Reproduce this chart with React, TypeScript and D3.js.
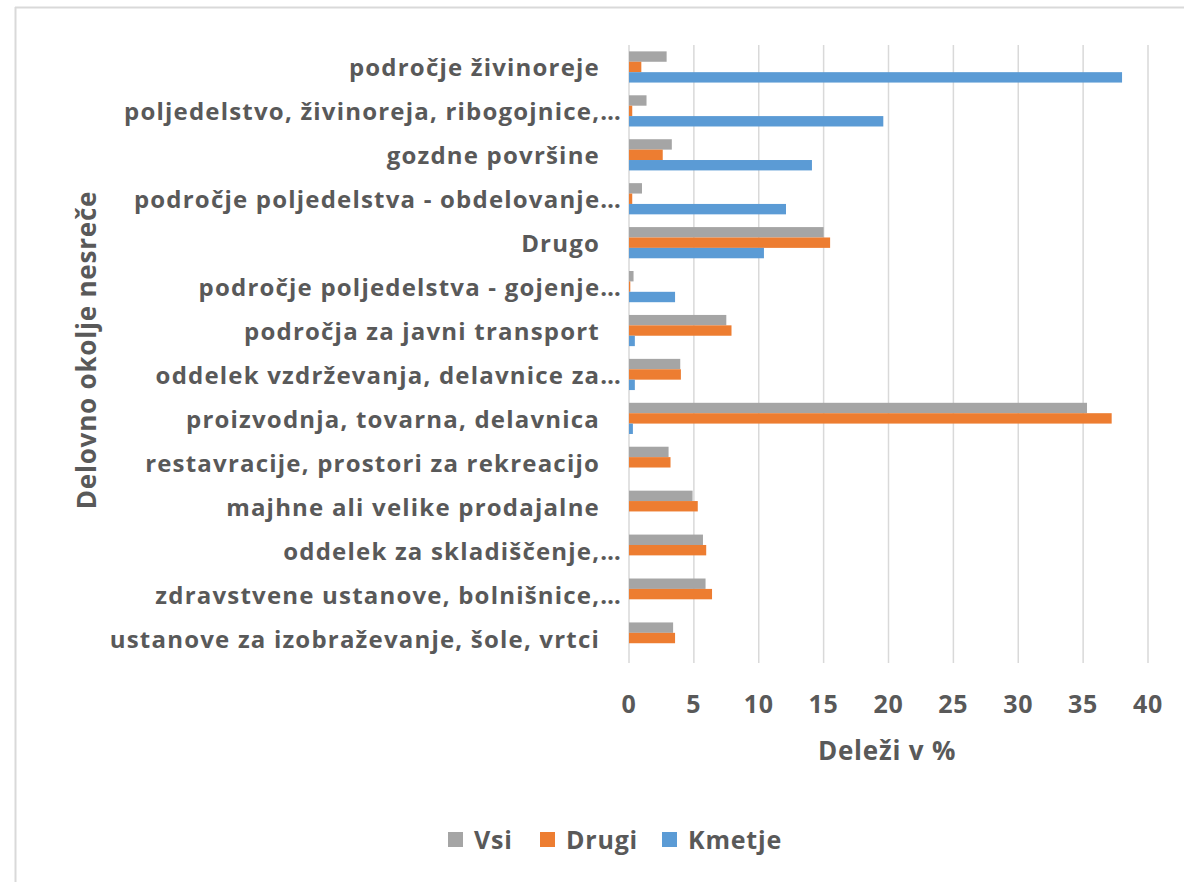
import React from "react";
import * as d3 from "d3";

const categories = [
  "področje živinoreje",
  "poljedelstvo, živinoreja, ribogojnice,…",
  "gozdne površine",
  "področje poljedelstva - obdelovanje…",
  "Drugo",
  "področje poljedelstva - gojenje…",
  "področja za javni transport",
  "oddelek vzdrževanja, delavnice za…",
  "proizvodnja, tovarna, delavnica",
  "restavracije, prostori za rekreacijo",
  "majhne ali velike prodajalne",
  "oddelek za skladiščenje,…",
  "zdravstvene ustanove, bolnišnice,…",
  "ustanove za izobraževanje, šole, vrtci",
];

const vsi = [2.9, 1.35, 3.3, 1.0, 15.0, 0.35, 7.5, 3.95, 35.3, 3.05, 4.9, 5.7, 5.9, 3.4];
const drugi = [0.95, 0.25, 2.6, 0.25, 15.5, 0.1, 7.9, 4.0, 37.2, 3.2, 5.3, 5.95, 6.4, 3.55];
const kmetje = [38.0, 19.6, 14.1, 12.1, 10.4, 3.55, 0.45, 0.45, 0.3, 0, 0, 0, 0, 0];

const seriesNames = ["Vsi", "Drugi", "Kmetje"];
const seriesColors = ["#A5A5A5", "#ED7D31", "#5B9BD5"];
const xTicks = [0, 5, 10, 15, 20, 25, 30, 35, 40];

export default function App() {
  const W = 1184, H = 882;
  const left = 629, right = 1148, top = 45, bottom = 660;
  const x = d3.scaleLinear().domain([0, 40]).range([left, right]);
  const y = d3.scaleBand().domain(categories).range([top, bottom]).paddingInner(0.29).paddingOuter(0.145);
  const inner = d3.scaleBand().domain(seriesNames).range([0, y.bandwidth()]);
  const series = [vsi, drugi, kmetje];
  const txt = "#595959";
  const font = "'Open Sans', sans-serif";
  const ls = 0.8;

  return (
    <svg width={W} height={H} style={{ position: "absolute", left: 0, top: 0, background: "#fff" }} fontFamily={font}>
      <rect x={0} y={0} width={W} height={H} fill="#fff" />
      <line x1={15.5} x2={15.5} y1={7} y2={H} stroke="#d9d9d9" strokeWidth={2} />
      <line x1={15} x2={W} y1={7.5} y2={7.5} stroke="#d9d9d9" strokeWidth={2} />
      {xTicks.map((t) => (
        <line key={"g" + t} x1={x(t)} x2={x(t)} y1={top} y2={bottom + 3} stroke="#d9d9d9" strokeWidth={1.5} />
      ))}
      {series.map((vals, si) =>
        categories.map((c, ci) => {
          const v = vals[ci];
          if (v <= 0) return null;
          return (
            <rect
              key={si + "-" + ci}
              x={x(0)}
              y={(y(c) as number) + (inner(seriesNames[si]) as number)}
              width={x(v) - x(0)}
              height={inner.bandwidth()}
              fill={seriesColors[si]}
            />
          );
        })
      )}
      {categories.map((c) => {
        const trunc = c.endsWith("…");
        return (
          <text
            key={"l" + c}
            x={trunc ? 622 : 600}
            y={(y(c) as number) + y.bandwidth() / 2}
            textAnchor="end"
            dominantBaseline="central"
            fontSize={24}
            fontWeight={700}
            letterSpacing={1.2}
            fill={txt}
          >
            {c}
          </text>
        );
      })}
      {xTicks.map((t) => (
        <text key={"t" + t} x={x(t)} y={703} textAnchor="middle" dominantBaseline="central" fontSize={25} fontWeight={700} letterSpacing={ls} fill={txt}>
          {t}
        </text>
      ))}
      <text x={887} y={750} textAnchor="middle" dominantBaseline="central" fontSize={26} fontWeight={700} letterSpacing={ls} fill={txt}>
        Deleži v %
      </text>
      <text
        transform={`translate(86,350) rotate(-90)`}
        textAnchor="middle"
        dominantBaseline="central"
        fontSize={26}
        fontWeight={700}
        letterSpacing={ls}
        fill={txt}
      >
        Delovno okolje nesreče
      </text>
      {seriesNames.map((s, i) => {
        const lx = [448, 540, 662][i];
        return (
          <g key={"lg" + s}>
            <rect x={lx} y={832} width={15} height={15} fill={seriesColors[i]} />
            <text x={lx + 26} y={839} dominantBaseline="central" fontSize={25} fontWeight={700} letterSpacing={ls} fill={txt}>
              {s}
            </text>
          </g>
        );
      })}
    </svg>
  );
}
